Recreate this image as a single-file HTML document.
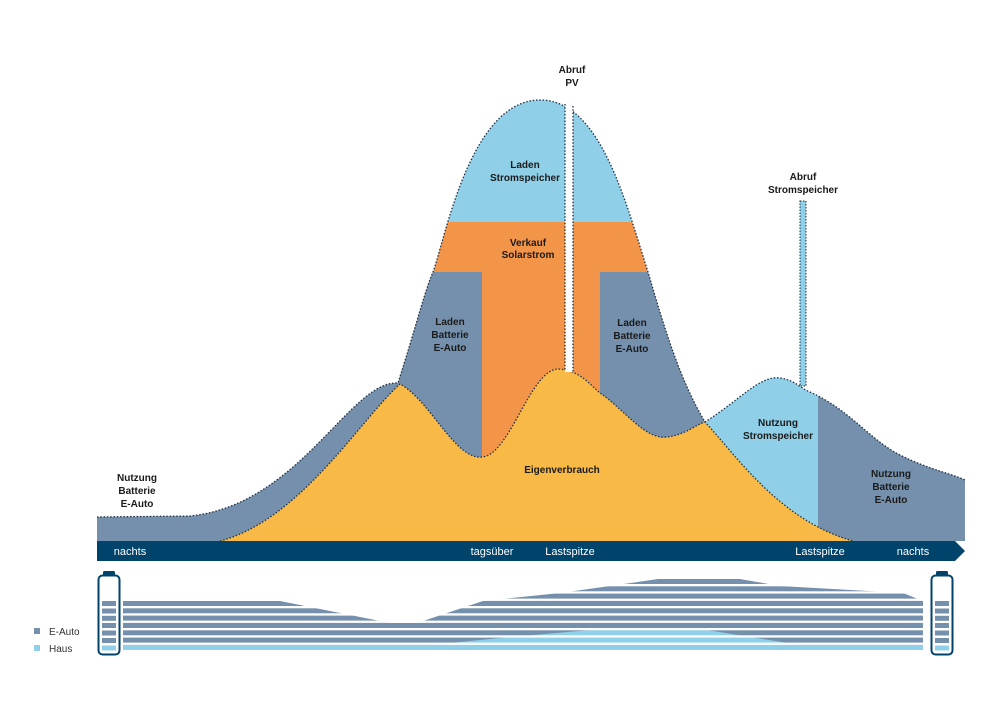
<!DOCTYPE html>
<html><head><meta charset="utf-8"><style>
html,body{margin:0;padding:0;background:#fff;}
svg{display:block;font-family:"Liberation Sans",sans-serif;}
.l{font-size:10px;font-weight:bold;fill:#1a1a1a;text-anchor:middle;}
.w{font-size:11px;fill:#fff;text-anchor:middle;}
.d{fill:none;stroke:#1f2f45;stroke-width:1.3;stroke-dasharray:1.5 1.8;}
</style></head><body>
<svg width="1000" height="707" viewBox="0 0 1000 707">
<defs>
<clipPath id="bell"><path d="M398,383 C415,330 425,290 433,272 C445,240 470,100 540,100 C600,100 625,200 648,272 C665,330 680,380 705,422 L705,541 L398,541 Z"/></clipPath>
<clipPath id="bump"><path d="M705,422 C740,400 760,375 780,378 C795,380 800,388 810,392 C850,410 870,440 900,455 C930,470 950,473 965,480 L965,541 L705,541 Z"/></clipPath>
</defs>
<!-- left tail -->
<path d="M97,541 L97,517 L190,516 C300,505 350,380 398,383 L440,541 Z" fill="#7590ad"/>
<!-- bell -->
<path d="M398,383 C415,330 425,290 433,272 C445,240 470,100 540,100 C600,100 625,200 648,272 C665,330 680,380 705,422 L705,541 L398,541 Z" fill="#8fd0e8"/>
<g clip-path="url(#bell)">
<rect x="380" y="222" width="340" height="320" fill="#f29549"/>
<rect x="380" y="272" width="102" height="270" fill="#7590ad"/>
<rect x="600" y="272" width="120" height="270" fill="#7590ad"/>
</g>
<!-- right bump -->
<g clip-path="url(#bump)">
<rect x="705" y="370" width="260" height="175" fill="#8fd0e8"/>
<rect x="818" y="370" width="150" height="175" fill="#7590ad"/>
</g>
<!-- yellow -->
<path d="M220,541 C300,520 360,420 400,384 C430,400 455,460 482,457 C510,455 530,370 558,369 C580,370 590,385 600,393 C625,410 645,440 667,437 C685,435 695,425 705,422 C740,460 780,520 853,541 Z" fill="#f8b947"/>
<!-- dashed outlines -->
<path class="d" d="M97,517 L190,516 C300,505 350,380 398,383 C415,330 425,290 433,272 C445,240 470,100 540,100 C600,100 625,200 648,272 C665,330 680,380 705,422 C740,400 760,375 780,378 C795,380 800,388 810,392 C850,410 870,440 900,455 C930,470 950,473 965,480"/>
<path class="d" d="M220,541 C300,520 360,420 400,384 C430,400 455,460 482,457 C510,455 530,370 558,369 C580,370 590,385 600,393 C625,410 645,440 667,437 C685,435 695,425 705,422 C740,460 780,520 853,541"/>
<!-- PV gap -->
<rect x="565" y="100" width="8" height="272" fill="#fff"/>
<line class="d" x1="565" y1="104" x2="565" y2="370"/><line class="d" x1="573" y1="106" x2="573" y2="372"/>
<!-- Abruf Stromspeicher bar -->
<rect x="800" y="201" width="6" height="185" fill="#8fd0e8" stroke="#1f2f45" stroke-width="1" stroke-dasharray="1.5 1.5"/>
<!-- time bar -->
<path d="M97,541 L955,541 L965,551 L955,561 L97,561 Z" fill="#00436b"/>
<text class="w" x="130" y="555">nachts</text>
<text class="w" x="492" y="555">tagsüber</text>
<text class="w" x="570" y="555">Lastspitze</text>
<text class="w" x="820" y="555">Lastspitze</text>
<text class="w" x="913" y="555">nachts</text>
<!-- labels -->
<text class="l" x="572" y="73">Abruf</text><text class="l" x="572" y="86">PV</text>
<text class="l" x="525" y="168">Laden</text><text class="l" x="525" y="181">Stromspeicher</text>
<text class="l" x="528" y="246">Verkauf</text><text class="l" x="528" y="258">Solarstrom</text>
<text class="l" x="450" y="325">Laden</text><text class="l" x="450" y="338">Batterie</text><text class="l" x="450" y="351">E-Auto</text>
<text class="l" x="632" y="326">Laden</text><text class="l" x="632" y="339">Batterie</text><text class="l" x="632" y="352">E-Auto</text>
<text class="l" x="562" y="473">Eigenverbrauch</text>
<text class="l" x="778" y="426">Nutzung</text><text class="l" x="778" y="439">Stromspeicher</text>
<text class="l" x="891" y="477">Nutzung</text><text class="l" x="891" y="490">Batterie</text><text class="l" x="891" y="503">E-Auto</text>
<text class="l" x="137" y="481">Nutzung</text><text class="l" x="137" y="494">Batterie</text><text class="l" x="137" y="507">E-Auto</text>
<text class="l" x="803" y="180">Abruf</text><text class="l" x="803" y="193">Stromspeicher</text>
<!-- bottom stripes -->
<path d="M123,601 L280,601 L390,623 L417,623 L483,601 L560,593 L610,586 L658,579 L740,579 L780,586 L903,593 L923,601 L923,650 L123,650 Z" fill="#7590ad"/>
<path d="M430,645 L500,638 L590,630 L707,630 L800,645 L923,645 L923,650 L123,650 L123,645 Z" fill="#8fd0e8"/>
<g fill="#fff">
<rect x="118" y="584" width="810" height="2.3"/><rect x="118" y="591.3" width="810" height="2.3"/>
<rect x="118" y="598.6" width="810" height="2.3"/><rect x="118" y="606" width="810" height="2.3"/>
<rect x="118" y="613.3" width="810" height="2.3"/><rect x="118" y="620.6" width="810" height="2.3"/>
<rect x="118" y="628" width="810" height="2.3"/><rect x="118" y="635.3" width="810" height="2.3"/>
<rect x="118" y="642.6" width="810" height="2.3"/>
</g>
<!-- batteries -->
<g>
<rect x="103" y="571" width="12" height="5" rx="1.5" fill="#00436b"/>
<rect x="98.5" y="575.5" width="21" height="79" rx="4" fill="none" stroke="#00436b" stroke-width="2"/>
<g fill="#7590ad"><rect x="102" y="601" width="14" height="5"/><rect x="102" y="608.5" width="14" height="5"/><rect x="102" y="615.8" width="14" height="5"/><rect x="102" y="623" width="14" height="5"/><rect x="102" y="630.5" width="14" height="5"/><rect x="102" y="638" width="14" height="5"/></g>
<rect x="102" y="645.5" width="14" height="5" fill="#8fd0e8"/>
</g>
<g transform="translate(833,0)">
<rect x="103" y="571" width="12" height="5" rx="1.5" fill="#00436b"/>
<rect x="98.5" y="575.5" width="21" height="79" rx="4" fill="none" stroke="#00436b" stroke-width="2"/>
<g fill="#7590ad"><rect x="102" y="601" width="14" height="5"/><rect x="102" y="608.5" width="14" height="5"/><rect x="102" y="615.8" width="14" height="5"/><rect x="102" y="623" width="14" height="5"/><rect x="102" y="630.5" width="14" height="5"/><rect x="102" y="638" width="14" height="5"/></g>
<rect x="102" y="645.5" width="14" height="5" fill="#8fd0e8"/>
</g>
<!-- legend -->
<rect x="34" y="628" width="6" height="6" fill="#7590ad"/>
<text x="49" y="635" font-size="10" fill="#333">E-Auto</text>
<rect x="34" y="645" width="6" height="6" fill="#8fd0e8"/>
<text x="49" y="652" font-size="10" fill="#333">Haus</text>
</svg>
</body></html>
